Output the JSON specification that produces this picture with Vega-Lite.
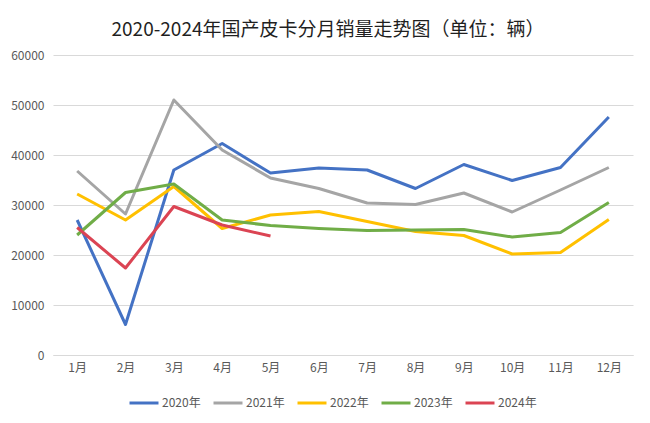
{
  "$schema": "https://vega.github.io/schema/vega-lite/v6.json",
  "width": 580,
  "height": 300,
  "autosize": {"type": "none"},
  "padding": {"left": 53, "top": 55, "right": 17, "bottom": 68},
  "background": "white",
  "title": {
    "text": "2020-2024年国产皮卡分月销量走势图（单位：辆）",
    "font": "Noto Sans CJK SC",
    "fontSize": 19,
    "fontWeight": "normal",
    "color": "#1f1f1f",
    "anchor": "middle",
    "dx": -15,
    "offset": 9
  },
  "config": {
    "font": "Noto Sans CJK SC",
    "view": {"stroke": null}
  },
  "data": {
    "values": [
      {"m": "1月", "y": "2020年", "v": 27000},
      {"m": "2月", "y": "2020年", "v": 6100},
      {"m": "3月", "y": "2020年", "v": 37000},
      {"m": "4月", "y": "2020年", "v": 42300},
      {"m": "5月", "y": "2020年", "v": 36400},
      {"m": "6月", "y": "2020年", "v": 37400},
      {"m": "7月", "y": "2020年", "v": 37000},
      {"m": "8月", "y": "2020年", "v": 33300},
      {"m": "9月", "y": "2020年", "v": 38100},
      {"m": "10月", "y": "2020年", "v": 34900},
      {"m": "11月", "y": "2020年", "v": 37500},
      {"m": "12月", "y": "2020年", "v": 47600},
      {"m": "1月", "y": "2021年", "v": 36800},
      {"m": "2月", "y": "2021年", "v": 28200},
      {"m": "3月", "y": "2021年", "v": 51000},
      {"m": "4月", "y": "2021年", "v": 41000},
      {"m": "5月", "y": "2021年", "v": 35400},
      {"m": "6月", "y": "2021年", "v": 33300},
      {"m": "7月", "y": "2021年", "v": 30400},
      {"m": "8月", "y": "2021年", "v": 30100},
      {"m": "9月", "y": "2021年", "v": 32400},
      {"m": "10月", "y": "2021年", "v": 28600},
      {"m": "11月", "y": "2021年", "v": 33000},
      {"m": "12月", "y": "2021年", "v": 37500},
      {"m": "1月", "y": "2022年", "v": 32200},
      {"m": "2月", "y": "2022年", "v": 27000},
      {"m": "3月", "y": "2022年", "v": 33700},
      {"m": "4月", "y": "2022年", "v": 25300},
      {"m": "5月", "y": "2022年", "v": 28000},
      {"m": "6月", "y": "2022年", "v": 28700},
      {"m": "7月", "y": "2022年", "v": 26700},
      {"m": "8月", "y": "2022年", "v": 24700},
      {"m": "9月", "y": "2022年", "v": 23900},
      {"m": "10月", "y": "2022年", "v": 20200},
      {"m": "11月", "y": "2022年", "v": 20500},
      {"m": "12月", "y": "2022年", "v": 27100},
      {"m": "1月", "y": "2023年", "v": 24000},
      {"m": "2月", "y": "2023年", "v": 32500},
      {"m": "3月", "y": "2023年", "v": 34200},
      {"m": "4月", "y": "2023年", "v": 27000},
      {"m": "5月", "y": "2023年", "v": 25900},
      {"m": "6月", "y": "2023年", "v": 25300},
      {"m": "7月", "y": "2023年", "v": 24900},
      {"m": "8月", "y": "2023年", "v": 25000},
      {"m": "9月", "y": "2023年", "v": 25100},
      {"m": "10月", "y": "2023年", "v": 23600},
      {"m": "11月", "y": "2023年", "v": 24500},
      {"m": "12月", "y": "2023年", "v": 30500},
      {"m": "1月", "y": "2024年", "v": 25500},
      {"m": "2月", "y": "2024年", "v": 17400},
      {"m": "3月", "y": "2024年", "v": 29700},
      {"m": "4月", "y": "2024年", "v": 26000},
      {"m": "5月", "y": "2024年", "v": 23800}
    ]
  },
  "mark": {"type": "line", "strokeWidth": 3, "strokeJoin": "round"},
  "encoding": {
    "x": {
      "field": "m",
      "type": "ordinal",
      "sort": ["1月","2月","3月","4月","5月","6月","7月","8月","9月","10月","11月","12月"],
      "scale": {"type": "point", "padding": 0.5},
      "axis": {
        "title": null,
        "labelAngle": 0,
        "labelColor": "#595959",
        "labelFontSize": 12,
        "labelPadding": 7,
        "domain": true,
        "domainColor": "#D9D9D9",
        "ticks": false,
        "grid": false
      }
    },
    "y": {
      "field": "v",
      "type": "quantitative",
      "scale": {"domain": [0, 60000], "nice": false},
      "axis": {
        "title": null,
        "values": [0, 10000, 20000, 30000, 40000, 50000, 60000],
        "format": "d",
        "labelColor": "#595959",
        "labelFontSize": 12,
        "labelPadding": 9,
        "domain": false,
        "ticks": false,
        "grid": true,
        "gridColor": "#D9D9D9"
      }
    },
    "color": {
      "field": "y",
      "type": "nominal",
      "scale": {
        "domain": ["2020年", "2021年", "2022年", "2023年", "2024年"],
        "range": ["#4472C4", "#A5A5A5", "#FFC000", "#70AD47", "#DB4453"]
      },
      "legend": {
        "title": null,
        "orient": "none",
        "direction": "horizontal",
        "legendX": 75,
        "legendY": 332,
        "symbolType": "stroke",
        "symbolSize": 841,
        "symbolStrokeWidth": 3,
        "labelColor": "#595959",
        "labelFontSize": 12,
        "labelOffset": 2,
        "columnPadding": 6
      }
    }
  }
}
